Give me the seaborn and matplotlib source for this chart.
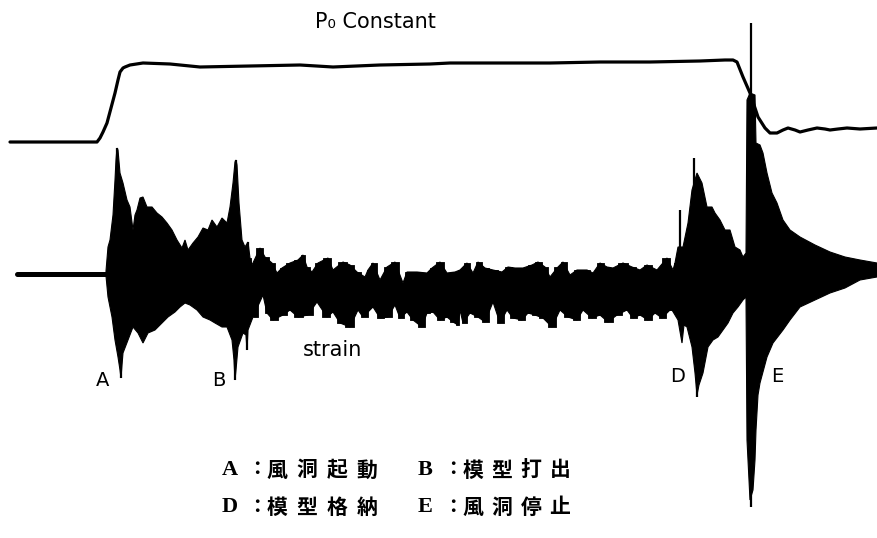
import numpy as np
import matplotlib
matplotlib.use("Agg")
import matplotlib.pyplot as plt
import seaborn as sns

# ---- recorded traces (time in chart units) ----
# tunnel stagnation pressure, relative to the pre-run level
p_t = [10, 60, 95, 97, 100, 103, 107, 111, 115, 118, 120, 123, 125, 130, 143, 170,
       200, 250, 300, 333, 380, 430, 450, 500, 550, 600, 650, 700, 725, 733, 737,
       743, 750, 758, 765, 770, 777, 783, 788, 795, 800, 808, 817, 825, 830, 838,
       847, 860, 877]
p_val = [1, 1, 1, 1, 5, 11, 20, 35, 50, 63, 71, 75, 76, 78, 80, 79,
         76, 77, 78, 76, 78, 79, 80, 80, 80, 81, 81, 82, 83, 83, 81,
         66, 50, 26, 15, 10, 10, 13, 15, 13, 11, 13, 15, 14, 13, 14,
         15, 14, 15]

# strain before the run starts (flat record)
base_t = [17, 106]
base_val = [0, 0]

# strain signal: upper envelope of the oscillation
su_t = [106, 108, 110, 113, 115, 116, 117, 118, 120, 123, 127, 130, 133, 135, 137,
        140, 143, 147, 152, 157, 162, 167, 172, 177, 182, 185, 188, 193, 198, 203, 208,
        212, 217, 222, 227, 230, 233, 235, 236, 237, 239, 242, 245, 248, 250, 252, 260,
        265, 272, 277, 282, 290, 298, 303, 307, 312, 318, 328, 333, 343, 350, 357, 365,
        368, 373, 380, 387, 395, 403, 407, 417, 427, 432, 440, 447, 455, 460, 467, 473,
        478, 485, 493, 502, 508, 515, 523, 532, 538, 545, 550, 558, 563, 570, 577, 587,
        593, 600, 607, 613, 623, 632, 640, 647, 657, 667, 673, 675, 678, 683, 688, 692,
        697, 702, 707, 712, 715, 720, 725, 730, 735, 740, 743, 746, 747, 750, 755, 756,
        760, 763, 767, 772, 777, 783, 790, 800, 815, 830, 845, 860, 877]
su_val = [2, 26, 33, 58, 93, 113, 125, 123, 100, 90, 73, 66, 43, 58, 63,
          75, 76, 66, 66, 60, 56, 50, 43, 33, 25, 33, 23, 30, 36, 45, 43,
          53, 46, 55, 50, 66, 90, 111, 113, 108, 70, 33, 26, 31, 15, 8, 25,
          16, 10, 0, 5, 10, 13, 18, 6, 1, 10, 15, 3, 11, 8, 1, -4,
          3, 10, -7, 6, 11, -10, 1, 1, 0, 5, 11, 0, 1, 3, 10, 0,
          11, 5, 3, 1, 6, 5, 5, 8, 11, 6, -4, 6, 11, -2, 3, 3,
          0, 10, 6, 5, 10, 6, 3, 8, 3, 15, 3, 10, 26, 26, 50, 83,
          100, 90, 66, 66, 60, 53, 43, 43, 26, 23, 16, 20, 173, 180, 178, 130,
          128, 120, 100, 80, 70, 53, 43, 36, 28, 21, 16, 13, 10]

# strain signal: lower envelope of the oscillation
sl_t = [106, 108, 112, 115, 118, 120, 121, 122, 123, 128, 133, 138, 143, 148, 155,
        162, 168, 175, 180, 185, 190, 197, 203, 210, 215, 222, 227, 232, 234, 235, 236,
        238, 243, 246, 247, 248, 253, 263, 267, 273, 283, 290, 298, 308, 317, 327, 333,
        340, 350, 358, 363, 373, 380, 388, 395, 400, 407, 413, 422, 427, 433, 440, 447,
        453, 458, 460, 463, 470, 478, 485, 493, 500, 507, 513, 522, 528, 535, 543, 552,
        560, 568, 577, 583, 592, 600, 608, 617, 627, 633, 640, 648, 655, 662, 670, 672,
        678, 682, 684, 687, 692, 695, 697, 699, 703, 708, 713, 718, 723, 728, 733, 738,
        743, 746, 747, 750, 753, 755, 756, 758, 760, 767, 773, 783, 790, 800, 815, 830,
        845, 860, 877]
sl_val = [-3, -24, -44, -67, -84, -97, -105, -92, -80, -67, -54, -60, -70, -60, -57,
          -50, -44, -39, -34, -30, -32, -37, -44, -47, -50, -54, -54, -67, -87, -107, -97,
          -74, -60, -62, -77, -57, -44, -22, -40, -47, -42, -37, -44, -42, -29, -44, -39,
          -50, -54, -37, -44, -34, -45, -44, -32, -45, -39, -47, -54, -40, -39, -47, -44,
          -49, -52, -37, -50, -40, -44, -49, -29, -50, -37, -45, -47, -40, -42, -45, -54,
          -37, -44, -47, -37, -45, -42, -49, -42, -37, -45, -42, -47, -40, -45, -37, -37,
          -47, -70, -52, -54, -74, -100, -122, -112, -100, -74, -67, -64, -57, -50, -40, -34,
          -27, -24, -167, -227, -217, -187, -157, -122, -110, -84, -70, -57, -47, -34, -27, -20,
          -15, -7, -4]

# isolated peaks of the strain record
spike_t = [117, 121, 235, 236, 247, 248, 260, 680, 694, 697, 751, 764]
spike_hi = [125, 0, 0, 113, 0, 31, 25, 63, 115, 0, 250, -20]
spike_lo = [0, -105, -107, 0, -77, 0, 0, 0, 0, -124, -234, -40]

# event markers
event_labels = ["A", "B", "D", "E"]
event_t = [103, 219, 678, 777]
event_y = [157, 157, 161, 161]

# legend of events
legend_rows = [[("A", "風洞起動"), ("B", "模型打出")],
               [("D", "模型格納"), ("E", "風洞停止")]]

P_BASE = 395       # vertical offset of the pressure trace
S_BASE = 265       # vertical offset of the strain trace
MID = -18          # level where the upper and lower halves of the band meet
STEADY = (250, 676)  # steady-flow part of the run, drawn as a ragged band

sns.set_theme(style="white")
plt.rcParams["font.family"] = ["DejaVu Sans"]
plt.rcParams["text.color"] = "black"

fig = plt.figure(figsize=(8.77, 5.38), dpi=100)
ax = fig.add_axes([0, 0, 1, 1])
ax.set_xlim(0, 877)
ax.set_ylim(0, 538)
ax.set_axis_off()

# pressure trace
sns.lineplot(x=np.array(p_t), y=np.array(p_val) + P_BASE, ax=ax, color="black",
             linewidth=2.3, sort=False, estimator=None)

# strain: flat lead-in
sns.lineplot(x=np.array(base_t), y=np.array(base_val) + S_BASE - 0.5, ax=ax,
             color="black", linewidth=3.6, sort=False, estimator=None)

# strain: oscillation envelope as one outline
su = np.array(su_val)
sl = np.array(sl_val)
poly_x = np.concatenate([su_t, sl_t[::-1]])
poly_y = np.concatenate([su, sl[::-1]]) + S_BASE
ax.fill(poly_x, poly_y, color="black", linewidth=0.8, edgecolor="black")

# steady-flow part: square-topped bursts on both edges
su_tt = np.array(su_t)
sl_tt = np.array(sl_t)
mu = (su_tt >= STEADY[0]) & (su_tt <= STEADY[1])
ml = (sl_tt >= STEADY[0]) & (sl_tt <= STEADY[1])
ax.fill_between(su_tt[mu], MID + S_BASE, su[mu] + S_BASE, step="mid",
                color="black", linewidth=0.6)
ax.fill_between(sl_tt[ml], MID + 4 + S_BASE, sl[ml] + S_BASE, step="mid",
                color="black", linewidth=0.6)

ax.vlines(spike_t, np.array(spike_lo) + S_BASE, np.array(spike_hi) + S_BASE,
          color="black", linewidth=1.6)

ax.text(375, 516, "P₀ Constant", ha="center", va="center", fontsize=15)
ax.text(332, 188, "strain", ha="center", va="center", fontsize=15)
for lab, t, y in zip(event_labels, event_t, event_y):
    ax.text(t, y, lab, ha="center", va="center", fontsize=14)

cjk = ["Noto Sans CJK JP", "DejaVu Sans"]
row_y = [68, 31]
col_x = [222, 418]
steps = [30, 29]
for row, y in zip(legend_rows, row_y):
    for (letter, desc), x0, step in zip(row, col_x, steps):
        ax.text(x0, y, letter, ha="left", va="center", fontsize=16,
                family="Liberation Serif", fontweight="bold")
        ax.text(x0 + 35, y, "：", ha="center", va="center", fontsize=14,
                family=cjk, fontweight="bold")
        for i, ch in enumerate(desc):
            ax.text(x0 + 55 + i * step, y, ch, ha="center", va="center",
                    fontsize=15, family=cjk, fontweight="bold")

fig.savefig("out.png", dpi=100, facecolor="white")
